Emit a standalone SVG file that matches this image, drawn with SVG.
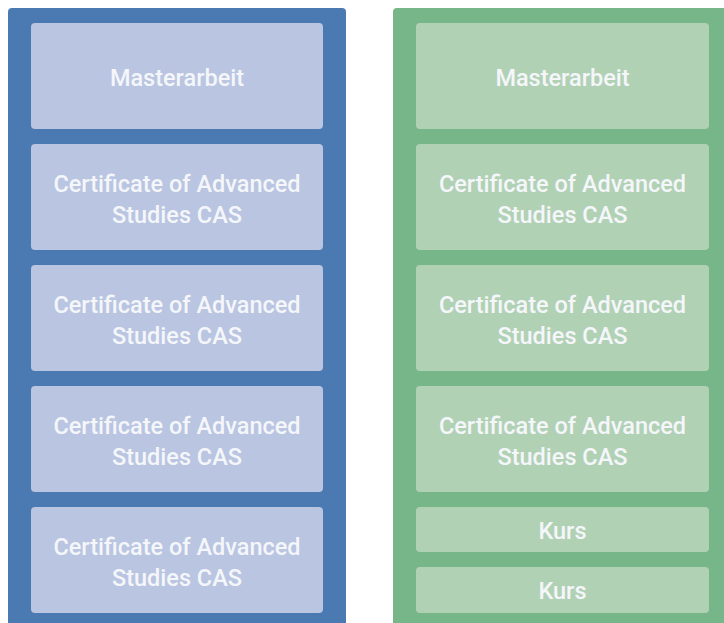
<svg xmlns="http://www.w3.org/2000/svg" width="724" height="623" viewBox="0 0 724 623">
  <style>
    .panel-blue { fill: #4b7ab2; }
    .panel-green { fill: #77b688; }
    .box-blue { fill: #b9c5e1; }
    .box-green { fill: #b1d1b5; }
    text { font-family: Roboto, "Noto Sans", sans-serif; font-size: 23.5px; font-weight: 500; fill: #f4f6fa; text-anchor: middle; }
  </style>

  <!-- left column -->
  <g id="column-left">
    <rect class="panel-blue" x="8" y="8" width="338" height="630" rx="4"/>
    <g id="left-masterarbeit">
      <rect class="box-blue" x="31" y="23" width="292" height="106" rx="4"/>
      <text x="177" y="85.5">Masterarbeit</text>
    </g>
    <g id="left-cas-1">
      <rect class="box-blue" x="31" y="144" width="292" height="106" rx="4"/>
      <text x="177" y="191.5">Certificate of Advanced</text>
      <text x="177" y="222.5">Studies CAS</text>
    </g>
    <g id="left-cas-2">
      <rect class="box-blue" x="31" y="265" width="292" height="106" rx="4"/>
      <text x="177" y="312.5">Certificate of Advanced</text>
      <text x="177" y="343.5">Studies CAS</text>
    </g>
    <g id="left-cas-3">
      <rect class="box-blue" x="31" y="386" width="292" height="106" rx="4"/>
      <text x="177" y="433.5">Certificate of Advanced</text>
      <text x="177" y="464.5">Studies CAS</text>
    </g>
    <g id="left-cas-4">
      <rect class="box-blue" x="31" y="507" width="292" height="106" rx="4"/>
      <text x="177" y="554.5">Certificate of Advanced</text>
      <text x="177" y="585.5">Studies CAS</text>
    </g>
  </g>

  <!-- right column -->
  <g id="column-right">
    <rect class="panel-green" x="393" y="8" width="340" height="630" rx="4"/>
    <g id="right-masterarbeit">
      <rect class="box-green" x="416" y="23" width="293" height="106" rx="4"/>
      <text x="562.5" y="85.5">Masterarbeit</text>
    </g>
    <g id="right-cas-1">
      <rect class="box-green" x="416" y="144" width="293" height="106" rx="4"/>
      <text x="562.5" y="191.5">Certificate of Advanced</text>
      <text x="562.5" y="222.5">Studies CAS</text>
    </g>
    <g id="right-cas-2">
      <rect class="box-green" x="416" y="265" width="293" height="106" rx="4"/>
      <text x="562.5" y="312.5">Certificate of Advanced</text>
      <text x="562.5" y="343.5">Studies CAS</text>
    </g>
    <g id="right-cas-3">
      <rect class="box-green" x="416" y="386" width="293" height="106" rx="4"/>
      <text x="562.5" y="433.5">Certificate of Advanced</text>
      <text x="562.5" y="464.5">Studies CAS</text>
    </g>
    <g id="right-kurs-1">
      <rect class="box-green" x="416" y="507" width="293" height="45" rx="4"/>
      <text x="562.5" y="538.5">Kurs</text>
    </g>
    <g id="right-kurs-2">
      <rect class="box-green" x="416" y="567" width="293" height="46" rx="4"/>
      <text x="562.5" y="598.5">Kurs</text>
    </g>
  </g>

  <g id="connectors"/>
</svg>
